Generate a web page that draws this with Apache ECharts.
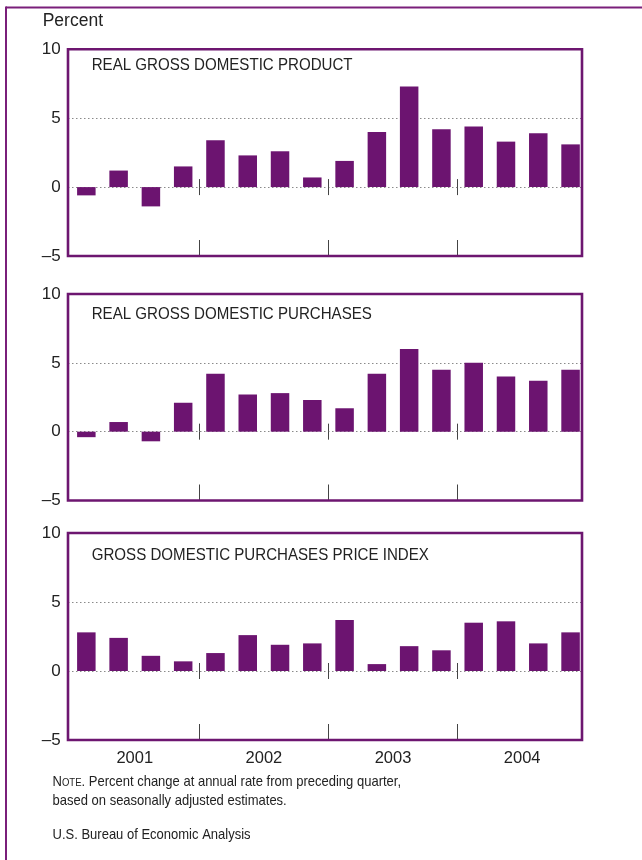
<!DOCTYPE html>
<html>
<head>
<meta charset="utf-8">
<script src="https://cdn.jsdelivr.net/npm/echarts@6/dist/echarts.min.js"></script>
<style>
html,body{margin:0;padding:0;background:#fff;}
#chart{width:642px;height:860px;}
</style>
</head>
<body>
<div id="chart"></div>
<script>
const quarters = ['2001Q1','2001Q2','2001Q3','2001Q4','2002Q1','2002Q2','2002Q3','2002Q4',
                  '2003Q1','2003Q2','2003Q3','2003Q4','2004Q1','2004Q2','2004Q3','2004Q4'];
const years = ['2001','2002','2003','2004'];
const realGDP = [-0.6, 1.2, -1.4, 1.5, 3.4, 2.3, 2.6, 0.7, 1.9, 4.0, 7.3, 4.2, 4.4, 3.3, 3.9, 3.1];
const realPurchases = [-0.4, 0.7, -0.7, 2.1, 4.2, 2.7, 2.8, 2.3, 1.7, 4.2, 6.0, 4.5, 5.0, 4.0, 3.7, 4.5];
const priceIndex = [2.8, 2.4, 1.1, 0.7, 1.3, 2.6, 1.9, 2.0, 3.7, 0.5, 1.8, 1.5, 3.5, 3.6, 2.0, 2.8];
const panelTitles = ['REAL GROSS DOMESTIC PRODUCT','REAL GROSS DOMESTIC PURCHASES','GROSS DOMESTIC PURCHASES PRICE INDEX'];
const panelData = [realGDP, realPurchases, priceIndex];
const yTicks = {min: -5, max: 10, interval: 5};
// quarter boundaries (start of each quarter, plus the end of the last one) for the year-divider ticks
const boundaries = quarters.concat(['2005Q1']);

const PURPLE = '#6d1670';
const BAR = '#6c1470';
const TEXT = '#222';
const FONT = '"Liberation Sans", Arial, sans-serif';

// layout (pixels)
const boxTops = [49.3, 294, 533];
const boxH = [206.7, 206.5, 207];
const titleY = [65.5, 314.2, 555.8];

const grids = [], xAxes = [], yAxes = [], series = [], graphics = [];
const isYearStart = (i) => i > 0 && i < quarters.length && i % 4 === 0;
const labelFmt = v => v < 0 ? '\u2013' + Math.abs(v) : String(v);

function tickAxis(gi, position, onZero, yIdx, len) {
  return {gridIndex: gi, type: 'category', data: boundaries, boundaryGap: false, position: position,
    axisLine: {show: false, onZero: onZero, onZeroAxisIndex: yIdx},
    axisLabel: {show: false}, splitLine: {show: false},
    axisTick: {show: true, inside: true, length: len, interval: isYearStart, lineStyle: {color: '#444', width: 1}}};
}

boxTops.forEach((top, g) => {
  // plotting grid (bars, ticks, labels)
  const gi = grids.length;
  grids.push({left: 70.2, right: 55.3, top: top, height: boxH[g], show: false});
  const y0 = yAxes.length;
  yAxes.push({gridIndex: gi, type: 'value', position: 'left', min: yTicks.min, max: yTicks.max, interval: yTicks.interval,
    axisLine: {show: false}, axisTick: {show: false},
    axisLabel: {color: TEXT, fontSize: 17, fontFamily: FONT, margin: 9.5, formatter: labelFmt},
    splitLine: {show: false}});
  yAxes.push({gridIndex: gi, type: 'value', position: 'left', show: false,
    min: yTicks.min, max: yTicks.max, interval: yTicks.interval});
  const xA = xAxes.length;
  xAxes.push({gridIndex: gi, type: 'category', data: quarters, position: 'bottom',
    axisLine: {show: false, onZero: false}, axisLabel: {show: false}, axisTick: {show: false}, splitLine: {show: false}});
  xAxes.push(tickAxis(gi, 'bottom', false, undefined, 16));
  xAxes.push(tickAxis(gi, 'bottom', true, y0, 8));
  xAxes.push(tickAxis(gi, 'top', true, y0 + 1, 8));
  series.push({type: 'bar', xAxisIndex: xA, yAxisIndex: y0, data: panelData[g], barWidth: 18.5,
    itemStyle: {color: BAR}, silent: true, z: 3});
  if (g === 2) {
    xAxes.push({gridIndex: gi, type: 'category', data: years, position: 'bottom',
      axisLine: {show: false, onZero: false}, axisTick: {show: false}, splitLine: {show: false},
      axisLabel: {color: TEXT, fontSize: 16.5, fontFamily: FONT, margin: 9.5}});
  }
  // frame grid (panel box + dotted gridlines)
  const bi = grids.length;
  grids.push({left: 68, right: 60, top: top, height: boxH[g], show: true,
    borderColor: PURPLE, borderWidth: 2.6, backgroundColor: 'transparent', z: 5});
  xAxes.push({gridIndex: bi, type: 'value', show: false, min: 0, max: 1});
  yAxes.push({gridIndex: bi, type: 'value', position: 'left', min: yTicks.min, max: yTicks.max, interval: yTicks.interval,
    axisLine: {show: false}, axisTick: {show: false}, axisLabel: {show: false},
    splitLine: {show: true, showMinLine: false, showMaxLine: false,
      lineStyle: {color: '#8a8a8a', type: [1.5, 2.5], width: 1}}});
  graphics.push({type: 'text', x: 91.7, y: titleY[g], scaleX: 0.888,
    style: {text: panelTitles[g], fill: TEXT, font: '17px ' + FONT, verticalAlign: 'middle'}});
});

graphics.push(
  {type: 'line', shape: {x1: 6, y1: 7.5, x2: 642, y2: 7.5}, style: {stroke: '#7a1f7a', lineWidth: 2}},
  {type: 'line', shape: {x1: 6, y1: 6.5, x2: 6, y2: 860}, style: {stroke: '#7a1f7a', lineWidth: 2}},
  {type: 'text', x: 42.7, y: 21.3, style: {text: 'Percent', fill: TEXT, font: '17.5px ' + FONT, verticalAlign: 'middle'}},
  {type: 'text', x: 52.5, y: 781.5, scaleX: 0.867, style: {
    text: '{a|N}{b|OTE}{a|. Percent change at annual rate from preceding quarter,}',
    verticalAlign: 'middle',
    rich: {a: {fontSize: 15, fontFamily: FONT, fill: TEXT}, b: {fontSize: 11, fontFamily: FONT, fill: TEXT, padding: [2, 0, 0, 0]}}}},
  {type: 'text', x: 52.5, y: 800.5, scaleX: 0.867, style: {text: 'based on seasonally adjusted estimates.',
    fill: TEXT, font: '15px ' + FONT, verticalAlign: 'middle'}},
  {type: 'text', x: 52.5, y: 834.5, scaleX: 0.867, style: {text: 'U.S. Bureau of Economic Analysis',
    fill: TEXT, font: '15px ' + FONT, verticalAlign: 'middle'}}
);

const chart = echarts.init(document.getElementById('chart'), null, {renderer: 'canvas'});
chart.setOption({
  animation: false,
  grid: grids,
  xAxis: xAxes,
  yAxis: yAxes,
  series: series,
  graphic: graphics
});
</script>
</body>
</html>
